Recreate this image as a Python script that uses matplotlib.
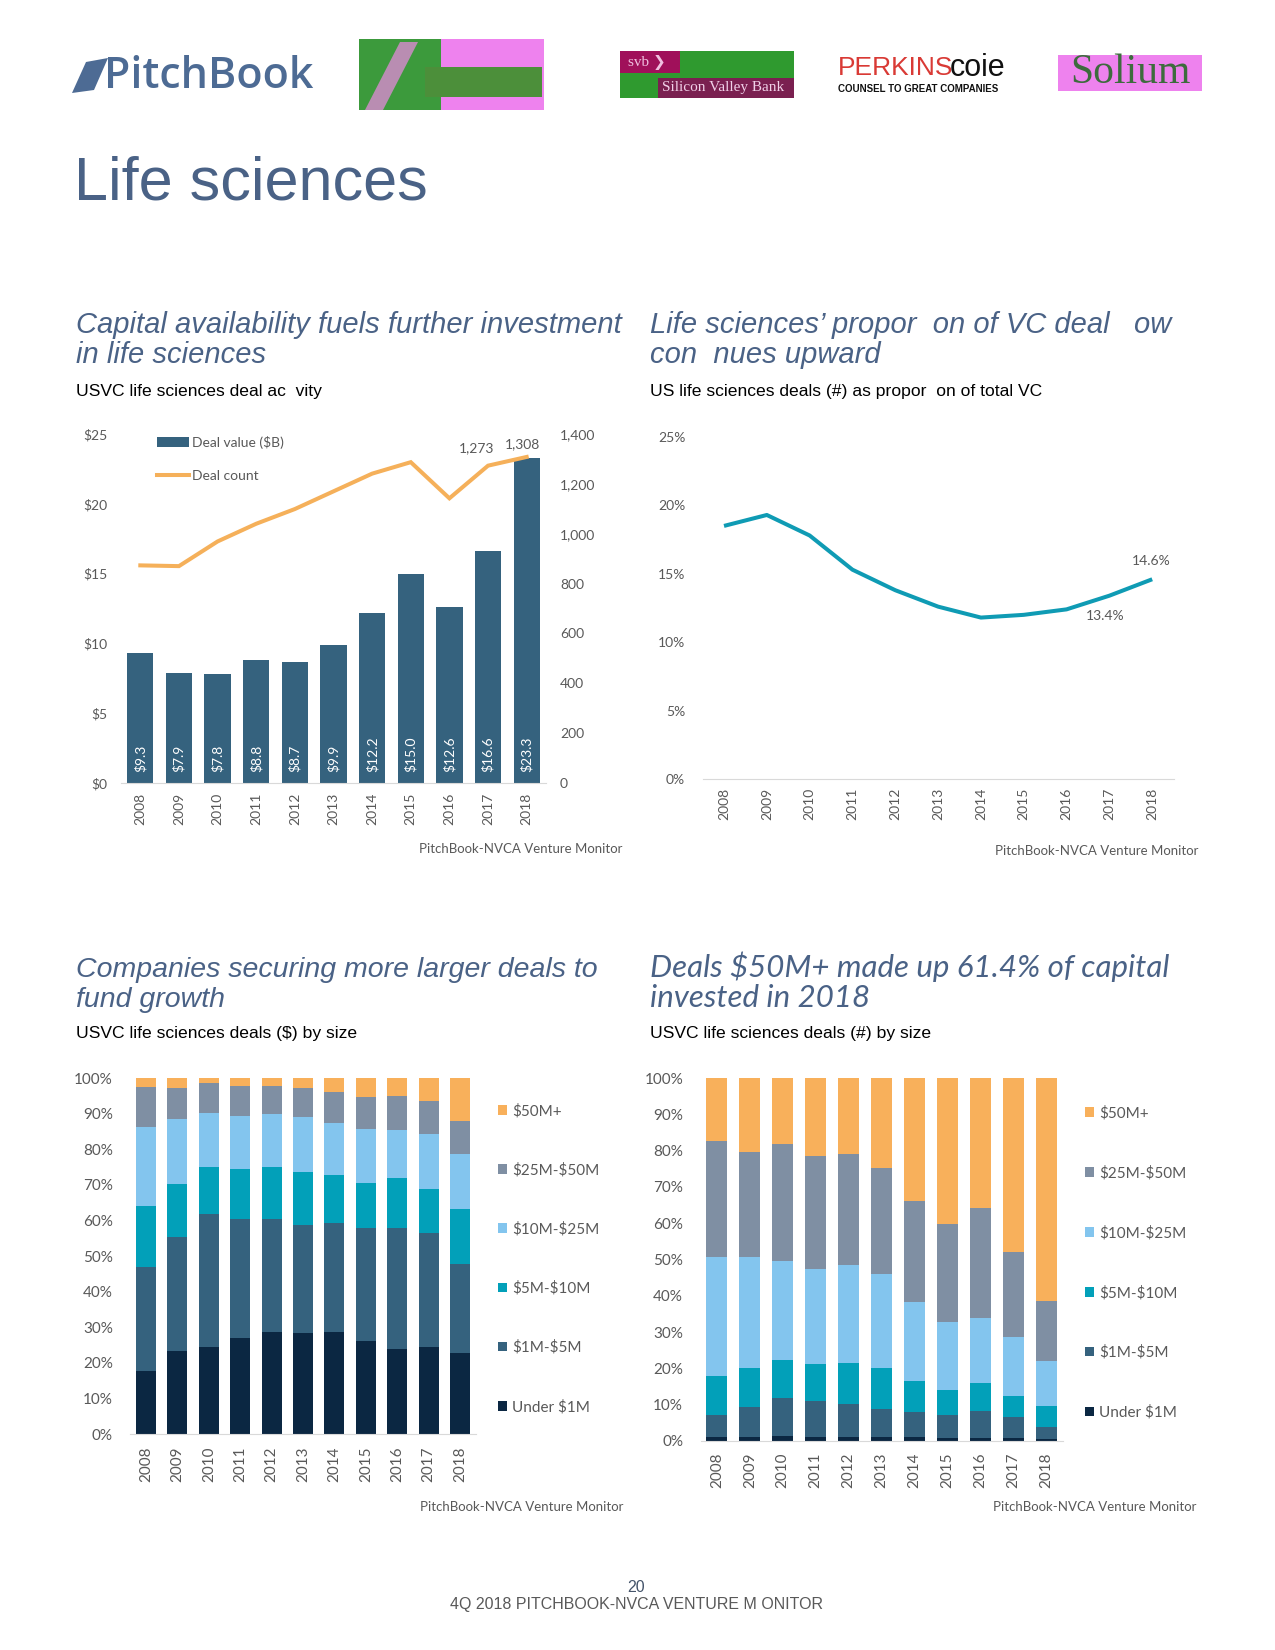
import numpy as np
import matplotlib.pyplot as plt
from matplotlib.patches import Rectangle, Polygon, Patch
from matplotlib.lines import Line2D

plt.rcParams['font.family'] = ['Lato', 'DejaVu Sans']
plt.rcParams['text.parse_math'] = False

W, H = 1275, 1650

# ---- data ----
years = ['2008', '2009', '2010', '2011', '2012', '2013',
         '2014', '2015', '2016', '2017', '2018']
deal_value = [9.3, 7.9, 7.8, 8.8, 8.7, 9.9, 12.2, 15.0, 12.6, 16.6, 23.3]
deal_count = [873, 870, 969, 1040, 1099, 1170, 1241, 1287, 1142, 1273, 1308]
ls_share = [18.5, 19.3, 17.8, 15.3, 13.8, 12.6, 11.8, 12.0, 12.4, 13.4, 14.6]

size_labels = ['Under $1M', '$1M-$5M', '$5M-$10M', '$10M-$25M', '$25M-$50M', '$50M+']
size_colors = ['#0b2742', '#35627e', '#02a0b9', '#83c5ee', '#7f8fa3', '#f8b05b']

# deals ($) by size, % of each year
usd_under1 = [17.8, 23.4, 24.5, 27.1, 28.7, 28.5, 28.7, 26.2, 24.0, 24.3, 22.8]
usd_1_5 = [29.2, 32.0, 37.4, 33.3, 31.7, 30.3, 30.7, 31.8, 34.0, 32.3, 25.0]
usd_5_10 = [17.1, 14.9, 13.2, 14.1, 14.7, 14.9, 13.4, 12.6, 14.0, 12.3, 15.5]
usd_10_25 = [22.2, 18.3, 15.2, 14.9, 14.9, 15.4, 14.7, 15.2, 13.5, 15.5, 15.4]
usd_25_50 = [11.3, 8.7, 8.4, 8.4, 7.8, 8.2, 8.7, 9.0, 9.5, 9.2, 9.3]
usd_50p = [2.4, 2.7, 1.3, 2.2, 2.2, 2.7, 3.8, 5.2, 5.0, 6.4, 12.0]

# deals (#) by size, % of each year
num_under1 = [1.0, 1.2, 1.3, 1.2, 1.2, 1.1, 1.0, 0.9, 0.9, 0.8, 0.5]
num_1_5 = [6.1, 8.1, 10.5, 9.8, 9.0, 7.7, 7.0, 6.2, 7.3, 5.8, 3.3]
num_5_10 = [10.7, 10.8, 10.5, 10.2, 11.2, 11.3, 8.5, 6.9, 7.7, 5.8, 5.8]
num_10_25 = [33.0, 30.5, 27.2, 26.1, 27.2, 26.0, 21.7, 18.7, 17.9, 16.2, 12.4]
num_25_50 = [31.9, 28.9, 32.4, 31.1, 30.6, 29.0, 27.8, 27.2, 30.3, 23.6, 16.6]
num_50p = [17.3, 20.5, 18.1, 21.6, 20.8, 24.9, 34.0, 40.1, 35.9, 47.8, 61.4]

title_blue = '#4a6286'
grey = '#595959'
axis_grey = '#d9d9d9'


def px(x, y):
    return x / W, 1 - y / H


def box(x0, y0, x1, y1):
    return [x0 / W, 1 - y1 / H, (x1 - x0) / W, (y1 - y0) / H]


fig = plt.figure(figsize=(W / 100, H / 100), dpi=100)

# ---- logos (approximate) ----
fig.patches.append(Polygon([px(72, 93), px(86, 62), px(108, 58), px(94, 90)],
                           closed=True, transform=fig.transFigure,
                           facecolor='#4d6b94', edgecolor='none'))
fig.text(*px(104, 77), 'PitchBook', fontsize=31, color='#4d6b94',
         family=['Open Sans', 'DejaVu Sans'], fontweight='semibold', va='center')

fig.patches.append(Rectangle(px(359, 110), 185 / W, 71 / H, transform=fig.transFigure,
                             facecolor='#3c9a3c', edgecolor='none'))
fig.patches.append(Rectangle(px(441, 110), 103 / W, 71 / H, transform=fig.transFigure,
                             facecolor='#ee82ee', edgecolor='none'))
fig.patches.append(Rectangle(px(425, 97), 117 / W, 30 / H, transform=fig.transFigure,
                             facecolor='#4c8f3a', edgecolor='none'))
fig.patches.append(Polygon([px(365, 110), px(400, 42), px(418, 42), px(383, 110)],
                           closed=True, transform=fig.transFigure,
                           facecolor='#d98ad0', edgecolor='none', alpha=0.8))
fig.patches.append(Rectangle(px(620, 98), 174 / W, 47 / H, transform=fig.transFigure,
                             facecolor='#2f9a2f', edgecolor='none'))
fig.patches.append(Rectangle(px(620, 73), 60 / W, 22 / H, transform=fig.transFigure,
                             facecolor='#a0105a', edgecolor='none'))
fig.patches.append(Rectangle(px(658, 98), 136 / W, 20 / H, transform=fig.transFigure,
                             facecolor='#7a2050', edgecolor='none'))
fig.text(*px(628, 62), 'svb ❯', fontsize=11, color='#f0c0e0', va='center',
         family=['Liberation Serif', 'DejaVu Sans'])
fig.text(*px(662, 88), 'Silicon Valley Bank', fontsize=11, color='#f0d0e8', va='center',
         family=['Liberation Serif', 'DejaVu Serif'])
fig.text(*px(838, 68), 'PERKINS', fontsize=19, color='#d93a35', va='center',
         family=['Liberation Sans Narrow', 'Liberation Sans'])
fig.text(*px(950, 68), 'coie', fontsize=22, color='#111111', va='center',
         family=['Liberation Sans Narrow', 'Liberation Sans'])
fig.text(*px(838, 89), 'COUNSEL TO GREAT COMPANIES', fontsize=7, color='#111111',
         va='center', fontweight='bold', family=['Liberation Sans', 'DejaVu Sans'])
fig.patches.append(Rectangle(px(1058, 91), 144 / W, 36 / H, transform=fig.transFigure,
                             facecolor='#ee82ee', edgecolor='none'))
fig.text(*px(1130, 73), 'Solium', fontsize=30, color='#3d6b3d', ha='center', va='center',
         family=['Liberation Serif', 'DejaVu Serif'])

# ---- page heading ----
fig.text(*px(74, 200), 'Life sciences', fontsize=44, color=title_blue,
         family=['Liberation Sans', 'DejaVu Sans'], va='baseline')


def titles(x, y1, lines, sub, sub_y, fam, fs):
    for k, t in enumerate(lines):
        fig.text(*px(x, y1 + 30 * k), t, fontsize=fs, style='italic', color=title_blue,
                 family=fam, va='baseline')
    fig.text(*px(x, sub_y), sub, fontsize=12.6, color='black',
             family=['Liberation Sans', 'DejaVu Sans'], va='baseline')


arial = ['Liberation Sans', 'DejaVu Sans']
titles(76, 333, ['Capital availability fuels further investment', 'in life sciences'],
       'USVC life sciences deal ac  vity', 396, arial, 21)
titles(650, 333, ['Life sciences\u2019 propor  on of VC deal   ow', 'con  nues upward'],
       'US life sciences deals (#) as propor  on of total VC', 396, arial, 21)
titles(76, 977, ['Companies securing more larger deals to', 'fund growth'],
       'USVC life sciences deals ($) by size', 1038, arial, 20.5)
titles(650, 977, ['Deals $50M+ made up 61.4% of capital', 'invested in 2018'],
       'USVC life sciences deals (#) by size', 1038, ['Lato', 'DejaVu Sans'], 22.5)


def style_axis(ax, ypad, xpad, fs):
    for s in ['top', 'right', 'left']:
        ax.spines[s].set_visible(False)
    ax.spines['bottom'].set_color(axis_grey)
    ax.tick_params(axis='y', length=0, pad=ypad, labelsize=fs, labelcolor=grey)
    ax.tick_params(axis='x', length=0, pad=xpad, labelsize=fs, labelcolor=grey,
                   labelrotation=90)


def source(x, y):
    fig.text(*px(x, y), 'PitchBook-NVCA Venture Monitor', fontsize=9.5, color=grey,
             ha='right', va='center')


x = np.arange(len(years))

# ---- chart 1: deal activity ----
ax1 = fig.add_axes(box(121, 434, 546, 783))
ax1.bar(x, deal_value, width=0.68, color='#35627e', zorder=2)
for i, v in enumerate(deal_value):
    ax1.annotate(f'${v:.1f}', (i, 0), xytext=(0, 8), textcoords='offset points',
                 rotation=90, ha='center', va='bottom', color='white', fontsize=10)
ax1.set_xlim(-0.5, len(years) - 0.5)
ax1.set_ylim(0, 25)
ax1.set_yticks(range(0, 26, 5))
ax1.set_yticklabels([f'${t}' for t in range(0, 26, 5)])
ax1.set_xticks(x)
ax1.set_xticklabels(years)
style_axis(ax1, 10, 7, 10)

ax1r = ax1.twinx()
ax1r.plot(x, deal_count, color='#f5b05a', lw=2.9, solid_joinstyle='miter', zorder=3)
ax1r.set_ylim(0, 1400)
ax1r.set_yticks(range(0, 1401, 200))
ax1r.set_yticklabels([f'{t:,}' for t in range(0, 1401, 200)])
for s in ['top', 'right', 'left', 'bottom']:
    ax1r.spines[s].set_visible(False)
ax1r.tick_params(axis='y', length=0, pad=10, labelsize=10, labelcolor=grey)
ax1r.annotate(f'{deal_count[9]:,}', (9, deal_count[9]), xytext=(-8, 8),
              textcoords='offset points', ha='center', va='bottom', fontsize=10, color=grey)
ax1r.annotate(f'{deal_count[10]:,}', (10, deal_count[10]), xytext=(-3, 5),
              textcoords='offset points', ha='center', va='bottom', fontsize=10, color=grey)
ax1r.legend(handles=[Patch(facecolor='#35627e', edgecolor='none', label='Deal value ($B)'),
                     Line2D([], [], color='#f5b05a', lw=2.9, label='Deal count')],
            loc='upper left', bbox_to_anchor=px(157, 436), bbox_transform=fig.transFigure,
            frameon=False, fontsize=10, labelspacing=1.5, handlelength=2.3,
            handleheight=0.7, handletextpad=0.2, borderpad=0, borderaxespad=0,
            labelcolor=grey)
source(622, 849)

# ---- chart 2: share of total VC ----
ax2 = fig.add_axes(box(702.6, 437, 1173.6, 779))
ax2.plot(x, ls_share, color='#0f9bb4', lw=2.9, solid_capstyle='butt')
ax2.set_xlim(-0.5, len(years) - 0.5)
ax2.set_ylim(0, 25)
ax2.set_yticks(range(0, 26, 5))
ax2.set_yticklabels([f'{t}%' for t in range(0, 26, 5)])
ax2.set_xticks(x)
ax2.set_xticklabels(years)
style_axis(ax2, 12.5, 6.5, 10)
ax2.annotate(f'{ls_share[10]}%', (10, ls_share[10]), xytext=(-1, 9),
             textcoords='offset points', ha='center', va='bottom', fontsize=10, color=grey)
ax2.annotate(f'{ls_share[9]}%', (9, ls_share[9]), xytext=(-3, -10),
             textcoords='offset points', ha='center', va='top', fontsize=10, color=grey)
source(1198, 851)


# ---- charts 3 & 4: stacked by deal size ----
def stacked(rect, series, leg_xy, spacing, xpad):
    ax = fig.add_axes(rect)
    bottom = np.zeros(len(years))
    for vals, col, lab in zip(series, size_colors, size_labels):
        ax.bar(x, vals, width=0.64, bottom=bottom, color=col, label=lab)
        bottom += np.array(vals)
    ax.set_xlim(-0.5, len(years) - 0.5)
    ax.set_ylim(0, 100)
    ax.set_yticks(range(0, 101, 10))
    ax.set_yticklabels([f'{t}%' for t in range(0, 101, 10)])
    ax.set_xticks(x)
    ax.set_xticklabels(years)
    style_axis(ax, 12.5, xpad, 11)
    h, l = ax.get_legend_handles_labels()
    ax.legend(h[::-1], l[::-1], loc='upper left', bbox_to_anchor=px(*leg_xy),
              bbox_transform=fig.transFigure, frameon=False, fontsize=11,
              labelspacing=spacing, handlelength=0.6, handleheight=0.6,
              handletextpad=0.3, borderpad=0, borderaxespad=0, labelcolor=grey)
    return ax


stacked(box(130.3, 1078, 475.7, 1434),
        [usd_under1, usd_1_5, usd_5_10, usd_10_25, usd_25_50, usd_50p],
        (498, 1104), 2.92, 9)
source(623, 1507)

stacked(box(700.5, 1078, 1062.5, 1441),
        [num_under1, num_1_5, num_5_10, num_10_25, num_25_50, num_50p],
        (1085, 1106), 2.97, 8)
source(1196, 1507)

# ---- footer ----
fig.text(*px(636, 1587), '20', fontsize=11.5, color='#44546a', ha='center', va='center',
         family=arial)
fig.text(*px(636, 1604), '4Q 2018 PITCHBOOK-NVCA VENTURE M ONITOR', fontsize=11.5,
         color=grey, ha='center', va='center', family=arial)

fig.savefig('out.png', dpi=100)
